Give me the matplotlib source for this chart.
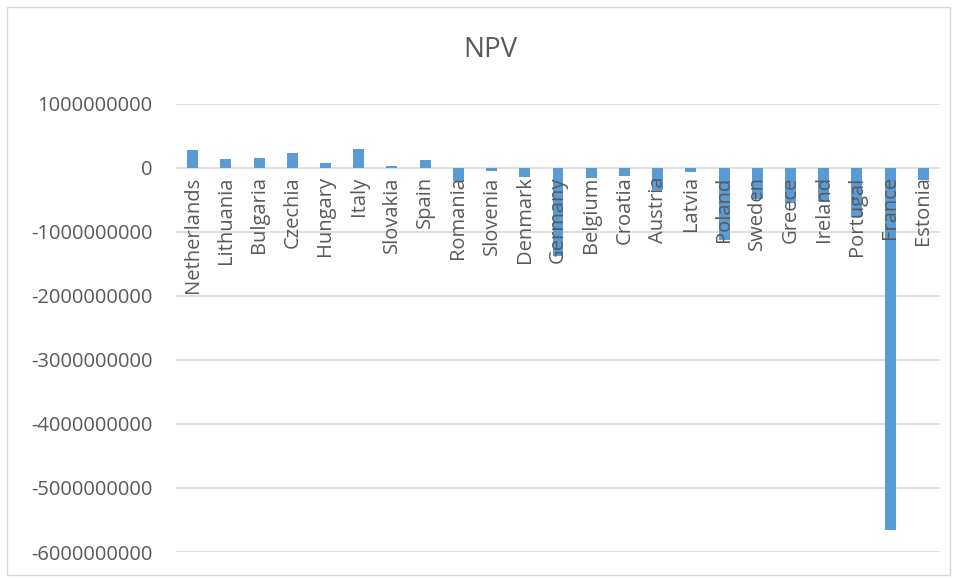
import matplotlib.pyplot as plt
from matplotlib.patches import Rectangle

countries = ['Netherlands', 'Lithuania', 'Bulgaria', 'Czechia', 'Hungary', 'Italy',
             'Slovakia', 'Spain', 'Romania', 'Slovenia', 'Denmark', 'Germany',
             'Belgium', 'Croatia', 'Austria', 'Latvia', 'Poland', 'Sweden',
             'Greece', 'Ireland', 'Portugal', 'France', 'Estonia']
npv = [2.8e8, 1.35e8, 1.55e8, 2.4e8, 7.8e7, 3.0e8,
       3.5e7, 1.2e8, -2.0e8, -4e7, -1.4e8, -1.375e9,
       -1.5e8, -1.3e8, -3.5e8, -7e7, -1.13e9, -4.8e8,
       -5.4e8, -5.2e8, -7.6e8, -5.65e9, -1.8e8]
yticks = [1e9, 0, -1e9, -2e9, -3e9, -4e9, -5e9, -6e9]

plt.rcParams['font.family'] = ['Open Sans', 'DejaVu Sans']

fig = plt.figure(figsize=(9.57, 5.79), dpi=100)
fig.patches.append(Rectangle((7 / 957, 4 / 579), 943 / 957, 568 / 579,
                             transform=fig.transFigure, fill=False,
                             edgecolor='#D9D9D9', linewidth=1))
ax = fig.add_axes([176 / 957, 1 - 552 / 579, 764 / 957, 448 / 579])

x = range(len(countries))
ax.bar(x, npv, width=0.33, color='#5B9BD5', zorder=3)
ax.set_xlim(-0.5, len(countries) - 0.5)
ax.set_ylim(-6e9, 1e9)
ax.set_yticks(yticks)
ax.set_yticklabels(['%d' % v for v in yticks])
ax.yaxis.grid(True, color='#D9D9D9', linewidth=1.2)
ax.set_axisbelow(True)

for s in ['top', 'right', 'left', 'bottom']:
    ax.spines[s].set_visible(False)
ax.set_xticks([])
ax.tick_params(axis='y', length=0, pad=17, labelsize=14.5, labelcolor='#595959')

# category labels sit just under the zero line, drawn over the bars
for i, name in zip(x, countries):
    ax.annotate(name, (i, 0), xytext=(0, -6), textcoords='offset points',
                rotation=90, ha='center', va='top', fontsize=14.5,
                color='#595959', zorder=5)

fig.text(0.512, 1 - 50 / 579, 'NPV', ha='center', va='center', fontsize=20, color='#595959')

fig.savefig('out.png')
